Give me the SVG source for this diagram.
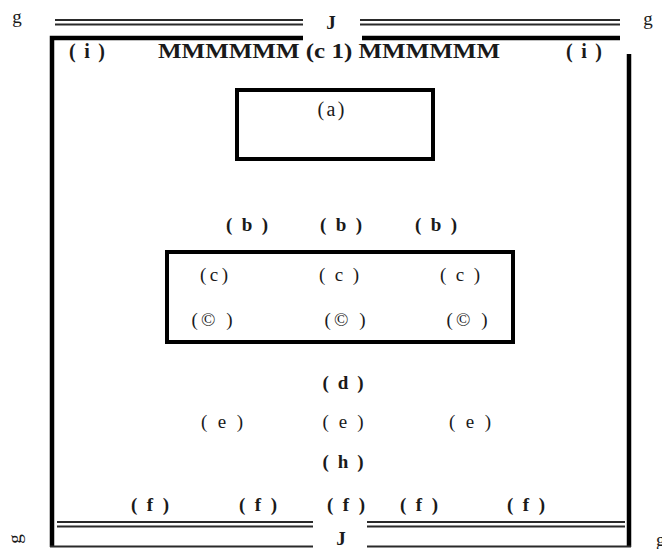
<svg xmlns="http://www.w3.org/2000/svg" width="662" height="549" viewBox="0 0 662 549">
<style>
.t{font-family:"Liberation Serif","Times New Roman",serif;fill:#1a1a1a;text-anchor:middle}
.b{font-weight:bold;font-size:19px}
.r{font-size:19px}
.thick{stroke:#000;stroke-width:4.5;fill:none}
.dbl{stroke:#2a2a2a;stroke-width:2;fill:none}
.box{stroke:#000;stroke-width:4;fill:#fff}
</style>
<rect width="662" height="549" fill="#fff"/>
<g id="frame">
<path class="dbl" d="M55 20H303M360 20H620M55 24.5H303M360 24.5H620"/>
<path class="thick" d="M52 547V38H303M362 38H620"/>
<path class="thick" d="M629 54V547"/>
<path class="dbl" d="M57 522H313M367 522H625M57 526.5H313M367 526.5H625"/>
<path class="dbl" d="M50 546.5H313M367 546.5H631"/>
</g>
<g id="labels-edge">
<text class="t r" x="17" y="23">g</text>
<text class="t r" x="648" y="25">g</text>
<text class="t r" transform="translate(21,539) rotate(-90)">g</text>
<text class="t r" x="656" y="546" style="text-anchor:start">g</text>
<text class="t b" x="331" y="29">J</text>
<text class="t b" x="341" y="545">J</text>
</g>
<g id="header">
<text class="t b" x="87" y="58" style="font-size:20px" textLength="36" lengthAdjust="spacing">( i )</text>
<text class="t b" x="584" y="58" style="font-size:20px" textLength="36" lengthAdjust="spacing">( i )</text>
<text class="t b" x="329" y="58" style="font-size:21px" textLength="342" lengthAdjust="spacingAndGlyphs">MMMMMM (c 1) MMMMMM</text>
</g>
<g id="node-a">
<rect class="box" x="237" y="90" width="196" height="69"/>
<text class="t r" x="331" y="116" style="font-size:20px" textLength="27" lengthAdjust="spacing">(a)</text>
</g>
<g id="node-b">
<text class="t b" x="247" y="231" textLength="42" lengthAdjust="spacing">( b )</text>
<text class="t b" x="341" y="231" textLength="42" lengthAdjust="spacing">( b )</text>
<text class="t b" x="436" y="231" textLength="42" lengthAdjust="spacing">( b )</text>
</g>
<g id="node-c">
<rect class="box" x="167" y="252" width="346" height="90"/>
<text class="t r" x="214" y="281" textLength="28" lengthAdjust="spacing">(c)</text>
<text class="t r" x="339" y="281" textLength="40" lengthAdjust="spacing">( c )</text>
<text class="t r" x="460" y="281" textLength="40" lengthAdjust="spacing">( c )</text>
<text class="t r" x="212" y="326" textLength="41" lengthAdjust="spacing">(© )</text>
<text class="t r" x="345" y="326" textLength="41" lengthAdjust="spacing">(© )</text>
<text class="t r" x="467" y="326" textLength="41" lengthAdjust="spacing">(© )</text>
</g>
<g id="node-d">
<text class="t b" x="343" y="389" textLength="41" lengthAdjust="spacing">( d )</text>
</g>
<g id="node-e">
<text class="t r" x="222" y="428" textLength="42" lengthAdjust="spacing">( e )</text>
<text class="t r" x="343" y="428" textLength="41" lengthAdjust="spacing">( e )</text>
<text class="t r" x="470" y="428" textLength="42" lengthAdjust="spacing">( e )</text>
</g>
<g id="node-h">
<text class="t b" x="343" y="468" textLength="41" lengthAdjust="spacing">( h )</text>
</g>
<g id="node-f">
<text class="t b" x="150" y="511" textLength="38" lengthAdjust="spacing">( f )</text>
<text class="t b" x="258" y="511" textLength="38" lengthAdjust="spacing">( f )</text>
<text class="t b" x="346" y="511" textLength="38" lengthAdjust="spacing">( f )</text>
<text class="t b" x="419" y="511" textLength="38" lengthAdjust="spacing">( f )</text>
<text class="t b" x="526" y="511" textLength="38" lengthAdjust="spacing">( f )</text>
</g>
<g id="connectors"></g>
</svg>
